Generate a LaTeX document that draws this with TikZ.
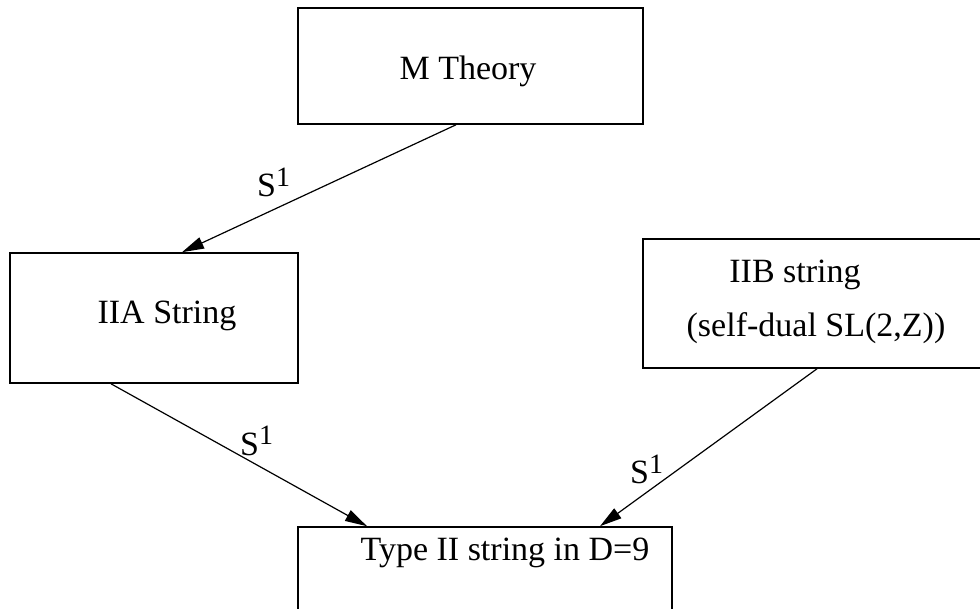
\documentclass[tikz,border=0pt]{standalone}
\usepackage{fontspec}
\setmainfont{Liberation Serif}
\usetikzlibrary{arrows.meta}
\tikzset {>={Triangle[length=22pt,width=12pt]}}
\tikzset{
  box/.style={draw,line width=1.6pt,inner sep=0pt},
  txt/.style={anchor=base,inner sep=0pt,font=\fontsize{34}{40}\selectfont},
  lab/.style={anchor=base west,inner sep=0pt,font=\fontsize{34}{40}\selectfont},
  link/.style={->,line width=1.2pt}
}
\newcommand{\Sone}{S\raisebox{10pt}{\fontsize{28}{28}\selectfont 1}}

\begin{document}
\begin{tikzpicture}[x=1pt,y=-1pt]
\useasboundingbox (0,0) rectangle (980,609);
% boxes
\node[box,minimum width=345pt,minimum height=116pt] (M) at (470.5,66) {};
\node[box,minimum width=288pt,minimum height=130pt] (IIA) at (154,318) {};
\node[box,minimum width=348pt,minimum height=129pt] (IIB) at (817,303.5) {};
\node[box,minimum width=374pt,minimum height=116pt] (D9) at (485,585) {};
% texts
\node[txt] (Mtxt) at (468,80) {M Theory};
\node[txt] (IIAtxt) at (167,324) {IIA String};
\node[txt] (IIBtxt) at (795,283) {IIB string};
\node[txt] (IIBsub) at (816,337) {(self-dual SL(2,Z))};
\node[txt] (D9txt) at (505,560) {Type II string in D=9};
% arrows
\draw[link] ([xshift=-14.5pt]M.south) -- ([xshift=28pt]IIA.north);
\draw[link] ([xshift=-43pt]IIA.south) -- ([xshift=-118pt]D9.north);
\draw[link] (IIB.south) -- ([xshift=115pt]D9.north);
\node[lab] (s1) at (257,197) {\Sone};
\node[lab] (s2) at (240,455) {\Sone};
\node[lab] (s3) at (630,483) {\Sone};
\end{tikzpicture}
\end{document}
